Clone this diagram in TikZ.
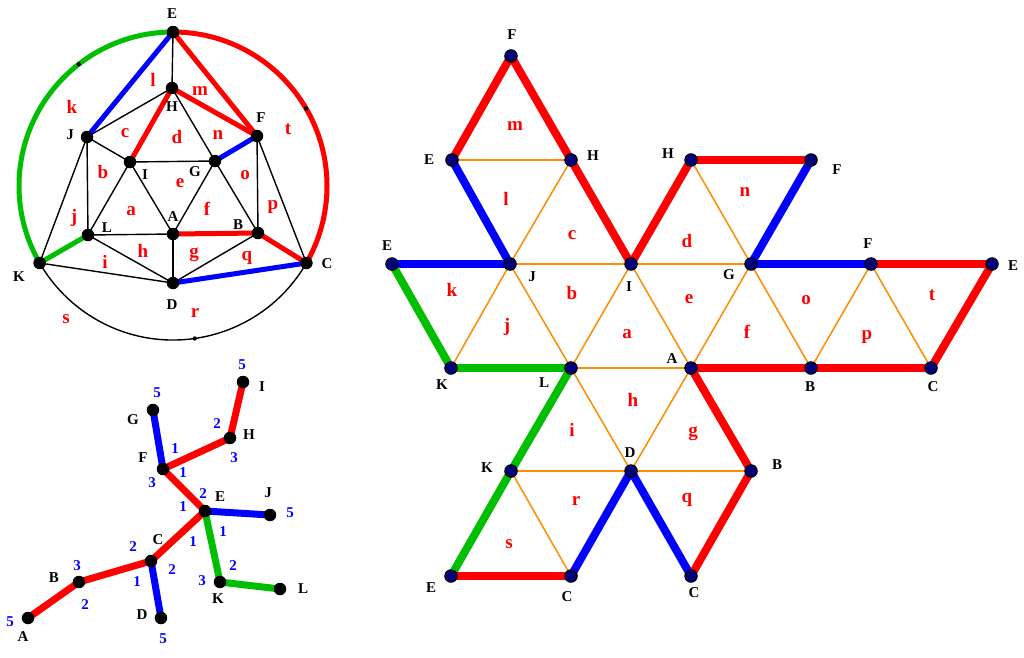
\documentclass[tikz,border=0pt]{standalone}
\usepackage{fontspec}
\setmainfont{Liberation Serif}
\definecolor{edgered}{RGB}{255,0,0}
\definecolor{edgeblue}{RGB}{0,0,255}
\definecolor{edgegreen}{RGB}{0,190,0}
\definecolor{meshorange}{RGB}{255,140,0}
\definecolor{navyfill}{RGB}{0,0,120}
\pgfdeclarelayer{background}
\pgfsetlayers{background,main}

\begin{document}
\begin{tikzpicture}[x=1pt,y=-1pt,
 dot/.style={circle,fill=black,inner sep=0pt,minimum size=12.5pt},
 netdot/.style={circle,fill=navyfill,draw=black,line width=1pt,inner sep=0pt,minimum size=12.5pt},
 lbl/.style={font=\bfseries\fontsize{15}{15}\selectfont,inner sep=0pt},
 facelbl/.style={font=\bfseries\fontsize{19}{19}\selectfont,text=edgered,inner sep=0pt},
 numlbl/.style={font=\bfseries\fontsize{15}{15}\selectfont,text=edgeblue,inner sep=0pt},
 plain/.style={line width=1.4pt},
 wide/.style={line width=5pt},
 fat/.style={line width=8pt},
 treeline/.style={line width=7pt},
 mesh/.style={meshorange,line width=1.5pt}]
\useasboundingbox (0,0) rectangle (1024,657);

% graph in the circle
\coordinate (gO) at (173,186);
\foreach \n/\x/\y/\lx/\ly in {E/173/32/172/14,H/172/88/172/107,J/87/137/70/135,F/257/136/261/118,
 I/130/162/145/175,G/215/161/195/172,L/88/235/107/228,A/173/234/173/217,B/258/233/238/225,
 K/39.6/263/19/277,C/306.4/263/327/264,D/173/283/172/305} {
 \node[dot] (g\n) at (\x,\y) {};
 \node[lbl] (g\n-t) at (\lx,\ly) {\n};
}
\begin{pgfonlayer}{background}
\foreach \a/\b in {E/H,H/J,H/G,J/I,J/L,J/K,I/G,I/L,I/A,G/A,G/B,F/B,F/C,L/A,L/D,A/D,B/D,K/D}
 \draw[plain] (g\a.center) -- (g\b.center);
\foreach \a/\b/\c in {E/J/edgeblue,E/F/edgered,H/I/edgered,H/F/edgered,G/F/edgeblue,
 L/K/edgegreen,A/B/edgered,B/C/edgered,D/C/edgeblue}
 \draw[wide,\c] (g\a.center) -- (g\b.center);
\draw[wide,edgegreen] (gE.center) arc[start angle=-90,end angle=-210,radius=154];
\draw[wide,edgered] (gE.center) arc[start angle=-90,end angle=30,radius=154];
\draw[plain] (gC.center) arc[start angle=30,end angle=150,radius=154];
\end{pgfonlayer}
\foreach \t in {-127.7,-30.2,81.9}
 \fill ([shift={(\t:154)}]gO) circle[radius=2.2];
\foreach \f/\x/\y in {l/153/80,m/200/91,k/72/107,t/288/129,c/125/133,d/177/137,n/218/135,
 b/103/172,e/180/183,o/245/175,j/74/218,a/131/211,f/207/209,p/273/207,h/143/251,i/105/262,
 g/194/255,q/247/258,s/66/319,r/195/313}
 \node[facelbl] (gface-\f) at (\x,\y) {\f};

% unfolded net
\foreach \n/\x/\y/\t/\lx/\ly in {F1/511/56/F/512/35,E1/452/160/E/429/160,H1/571/160/H/593/156,
 H2/691/160/H/668/154,F2/811/160/F/837/170,E2/392/264/E/387/246,J/510/264/J/532/277,
 I/631/264/I/629/287,G/751/264/G/729/275,F3/871/264/F/868/244,E3/992/264/E/1013/266,
 K1/451/368/K/442/385,L/571/368/L/544/383,A/691/368/A/672/359,B1/811/368/B/810/387,
 C1/931/368/C/933/387,K2/511/471/K/487/468,D/631/471/D/630/453,B2/751/471/B/777/465,
 E4/451/576/E/431/588,C2/571/576/C/567/597,C3/691/576/C/694/593} {
 \node[netdot] (n\n) at (\x,\y) {};
 \node[lbl] (n\n-t) at (\lx,\ly) {\t};
}
\begin{pgfonlayer}{background}
\foreach \a/\b in {E1/H1,H1/J,J/I,I/G,J/K1,J/L,I/L,I/A,G/A,G/B1,H2/G,F3/B1,F3/C1,
 L/A,L/D,A/D,K2/D,D/B2,K2/C2}
 \draw[mesh] (n\a.center) -- (n\b.center);
\foreach \a/\b/\c in {F1/E1/edgered,F1/H1/edgered,H1/I/edgered,E1/J/edgeblue,E2/J/edgeblue,
 E2/K1/edgegreen,K1/L/edgegreen,L/K2/edgegreen,K2/E4/edgegreen,E4/C2/edgered,C2/D/edgeblue,
 D/C3/edgeblue,C3/B2/edgered,B2/A/edgered,A/B1/edgered,B1/C1/edgered,C1/E3/edgered,
 E3/F3/edgered,F3/G/edgeblue,G/F2/edgeblue,F2/H2/edgered,H2/I/edgered}
 \draw[fat,\c] (n\a.center) -- (n\b.center);
\end{pgfonlayer}
\foreach \f/\x/\y in {m/515/126,l/506/199,c/572/235,d/687/241,n/745/192,k/452/290,b/572/293,
 e/689/299,o/806/300,t/932/295,j/507/327,a/627/334,f/747/332,p/867/337,h/633/400,i/572/430,
 g/693/434,r/576/501,q/687/500,s/509/544}
 \node[facelbl] (nface-\f) at (\x,\y) {\f};

% tree
\foreach \n/\x/\y/\lx/\ly in {A/28/618/23/637,B/79/582/54/578,C/151/561/158/540,D/161/618/142/615,
 E/205/511/220/497,F/163/469/143/458,G/153/410/133/420,H/230/438/249/435,I/243/382/262/387,
 J/270/515/268/493,K/220/582/218/599,L/280/589/303/589} {
 \node[dot] (t\n) at (\x,\y) {};
 \node[lbl] (t\n-t) at (\lx,\ly) {\n};
}
\begin{pgfonlayer}{background}
\foreach \a/\b/\c in {A/B/edgered,B/C/edgered,C/E/edgered,E/F/edgered,F/H/edgered,H/I/edgered,
 F/G/edgeblue,C/D/edgeblue,E/J/edgeblue,E/K/edgegreen,K/L/edgegreen}
 \draw[treeline,\c] (t\a.center) -- (t\b.center);
\end{pgfonlayer}
\foreach \v/\x/\y [count=\i] in {5/242/365,5/157/393,2/217/424,3/234/458,1/175/449,1/183/473,
 3/152/483,2/203/494,1/183/507,1/223/532,5/290/513,1/193/542,2/133/547,2/172/570,1/137/582,
 3/77/566,2/85/605,5/10/622,5/163/639,2/233/566,3/202/581}
 \node[numlbl] (num\i) at (\x,\y) {\v};
\end{tikzpicture}
\end{document}
